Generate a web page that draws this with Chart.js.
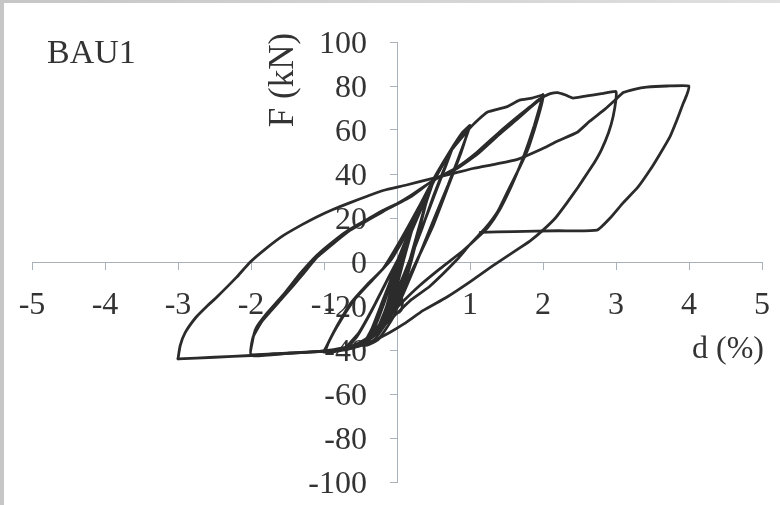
<!DOCTYPE html>
<html>
<head>
<meta charset="utf-8">
<title>BAU1</title>
<script src="https://cdn.jsdelivr.net/npm/chart.js@4.4.0/dist/chart.umd.min.js"></script>
<style>
  html, body { margin: 0; width: 780px; height: 505px; overflow: hidden; }
  body { background: linear-gradient(90deg, #c6c6c6, #e0e0e0); position: relative; }
  #wrap { position: absolute; left: 4px; top: 3px; width: 776px; height: 502px; background: #fff; }
</style>
</head>
<body>
<div id="wrap"><canvas id="hysteresis" width="776" height="502"></canvas></div>
<script>
// Specimen BAU1 - lateral force F (kN) vs drift d (%)

// tick labels
const xTicks = [-5, -4, -3, -2, -1, 0, 1, 2, 3, 4, 5];
const yTicks = [-100, -80, -60, -40, -20, 0, 20, 40, 60, 80, 100];

// small cycles (0.25 / 0.5 / 0.75 %)
const smallD = [0, 0.12, 0.25, 0.2, 0.1, 0.0, -0.12, -0.24, -0.14, -0.04, 0.06, 0.16, 0.26, 0.2, 0.1, -0.02, -0.14, -0.26, -0.15, -0.05,
  0.05, 0.2, 0.36, 0.5, 0.4, 0.3, 0.2, 0.08, -0.05, -0.25, -0.42, -0.32, -0.18, -0.05, 0.08, 0.25, 0.47,
  0.38, 0.27, 0.16, 0.04, -0.12, -0.3, -0.46, -0.34, -0.2, -0.06, 0.1, 0.3, 0.5, 0.64, 0.75,
  0.66, 0.52, 0.36, 0.22, 0.08, -0.1, -0.35, -0.7, -0.55, -0.36, -0.16, 0.02, 0.2, 0.45, 0.62, 0.74,
  0.63, 0.5, 0.34, 0.2, 0.04, -0.16, -0.4, -0.72, -0.52, -0.3, -0.1, 0.06];
const smallF = [0, 10, 21, 14, 3, -8, -19, -29, -20, -9, 2, 11, 22, 14, 2, -13, -22, -30, -21, -9,
  2, 14, 27, 37, 27, 14, 1, -13, -25, -35, -38, -31, -19, -6, 6, 19, 35,
  25, 12, -1, -14, -26, -35, -38, -30, -18, -6, 8, 23, 37, 45, 51,
  43, 31, 17, 5, -8, -22, -34, -40, -34, -23, -10, 1, 14, 33, 44, 50,
  41, 30, 15, 3, -10, -24, -36, -40, -32, -19, -6, 4];

// 1 % cycles, then on along the envelope to 2 %
const cyc1D = [0.06, 0.25, 0.49, 0.72, 0.9, 1.0, 0.85, 0.7, 0.5, 0.27, 0.05, -0.2, -0.5, -1.0,
  -0.96, -0.82, -0.64, -0.4, -0.19, 0.05, 0.3, 0.49, 0.75, 0.98,
  0.88, 0.72, 0.5, 0.22, 0.0, -0.25, -0.6, -0.98,
  -0.93, -0.78, -0.58, -0.33, -0.08, 0.15, 0.35, 0.5, 0.75, 1.03,
  1.23, 1.5, 1.68, 1.85, 2.0];
const cyc1F = [4, 20, 37, 50, 59, 62, 48, 35, 19, 0, -17, -30, -38, -41,
  -38, -29, -19, -10, -3, 10, 25, 37, 51, 61,
  50, 36, 17, -3, -18, -32, -39, -41,
  -36, -27, -17, -8, 1, 14, 28, 37, 51, 62,
  68, 70.5, 73.6, 74.5, 76];

// 2 % cycles
const cyc2D = [2.0, 1.95, 1.88, 1.8, 1.7, 1.56, 1.41, 1.25, 1.1, 0.9, 0.59, 0.3, 0.08, -0.15, -0.33, -0.6, -1.0, -1.5, -2.0,
  -1.98, -1.93, -1.8, -1.56, -1.32, -1.1, -0.85, -0.64, -0.4, -0.19, 0.0, 0.18, 0.49, 0.82, 1.1, 1.4, 1.65, 1.82, 1.95, 2.0,
  1.96, 1.88, 1.79, 1.68, 1.53, 1.38, 1.2, 1.0, 0.82, 0.45, 0.2, 0.04, -0.15, -0.33, -0.7, -1.2, -1.6, -2.0,
  -1.97, -1.85, -1.56, -1.3, -1.1, -0.85, -0.64, -0.4, -0.19, 0.18, 0.49, 0.82, 1.1, 1.4, 1.65, 1.82, 2.0];
const cyc2F = [76, 70, 62, 54, 45, 34, 24, 16, 11, 5, -3, -11, -18, -26, -33, -38, -40.5, -41.5, -42.5,
  -36, -30, -24, -15, -5, 3, 10, 15, 19.5, 23.5, 26.5, 30, 37, 43, 50, 59, 66, 70.5, 74, 75,
  69, 60, 51, 43, 33, 23, 15, 8, 1, -11, -17, -22, -28, -34, -39, -41, -41.5, -42,
  -34, -27, -16, -6, 2, 9, 14.5, 19, 23, 29.5, 37, 42.5, 49, 58, 65, 70, 75];

// 3 % cycle
const cyc3D = [2.0, 2.1, 2.2, 2.3, 2.41, 2.6, 2.8, 3.0,
  3.0, 2.96, 2.9, 2.8, 2.7, 2.6, 2.48, 2.33, 2.17, 2.0, 1.82, 1.64, 1.3, 1.0, 0.68, 0.36, 0.1, -0.1, -0.4, -0.8, -1.5, -2.0, -2.5, -3.0];
const cyc3F = [75, 76.5, 77, 76, 74.5, 75.5, 76.5, 77.5,
  74, 66, 59, 51, 45, 40, 34, 27, 20, 14.5, 9.5, 5.5, -2, -9, -16, -22, -28, -32, -37, -40, -41.5, -42.5, -43.3, -44];

// reload to 4 % and final unloading
const cyc4D = [-3.0, -2.97, -2.9, -2.75, -2.6, -2.47, -2.2, -2.01, -1.8, -1.56, -1.3, -1.1, -0.87, -0.64, -0.4, -0.19, 0.13, 0.49, 0.8, 1.04, 1.35, 1.64, 1.96, 2.2, 2.47, 2.64, 2.85, 3.0, 3.1, 3.25, 3.42, 3.7, 4.0,
  3.97, 3.92, 3.84, 3.74, 3.6, 3.47, 3.3, 3.1, 2.92, 2.74, 2.2, 1.6, 1.14];
const cyc4F = [-44, -38, -32, -25, -20, -16, -7, 0, 6, 12, 17, 20.5, 24, 27, 30, 32.5, 35, 38, 40.5, 42.5, 44.5, 46.5, 51, 55, 59, 64, 69.5, 74, 77, 78.5, 79.5, 80, 80,
  76, 72, 65, 57, 49, 42, 34, 27, 20, 14.5, 14.2, 13.8, 13.5];

const lineColor = '#2b2b2b';
const axisColor = '#a9b1ba';
const textColor = '#333333';
const serif = '"Liberation Serif", "Times New Roman", serif';

function toPoints(dArr, fArr) {
  return dArr.map((d, i) => ({x: d, y: fArr[i]}));
}

function makeSet(dArr, fArr) {
  return {
    data: toPoints(dArr, fArr),
    showLine: true,
    borderColor: lineColor,
    borderWidth: 2.8,
    pointRadius: 0,
    tension: 0.15,
    borderJoinStyle: 'round',
    borderCapStyle: 'round',
    fill: false
  };
}

// tick labels and titles, drawn beneath the curves
const axisText = {
  id: 'axisText',
  beforeDatasetsDraw(chart) {
    const {ctx, scales: {x, y}} = chart;
    const x0 = x.getPixelForValue(0);
    const y0 = y.getPixelForValue(0);
    ctx.save();
    ctx.fillStyle = textColor;
    ctx.textBaseline = 'alphabetic';

    ctx.font = '32px ' + serif;
    ctx.textAlign = 'right';
    yTicks.forEach(v => ctx.fillText(String(v), x0 - 30, y.getPixelForValue(v) + 11));
    ctx.textAlign = 'center';
    xTicks.forEach(v => ctx.fillText(String(v), x.getPixelForValue(v), y0 + 52));

    ctx.textAlign = 'right';
    ctx.fillText('d (%)', x.getPixelForValue(5) + 2, y0 + 96);

    ctx.font = '34px ' + serif;
    ctx.textAlign = 'left';
    ctx.fillText('BAU1', 43, 60);

    ctx.font = '35px ' + serif;
    ctx.translate(x0 - 104, 77);
    ctx.rotate(-Math.PI / 2);
    ctx.textAlign = 'center';
    ctx.fillText('F (kN)', 0, 0);
    ctx.restore();
  }
};

new Chart(document.getElementById('hysteresis'), {
  type: 'scatter',
  data: {
    datasets: [
      makeSet(smallD, smallF),
      makeSet(cyc1D, cyc1F),
      makeSet(cyc2D, cyc2F),
      makeSet(cyc3D, cyc3F),
      makeSet(cyc4D, cyc4F)
    ]
  },
  options: {
    responsive: false,
    animation: false,
    layout: {padding: {left: 28, right: 18, top: 39, bottom: 23}},
    plugins: {legend: {display: false}, tooltip: {enabled: false}},
    scales: {
      x: {
        type: 'linear', min: -5, max: 5, position: {y: 0},
        ticks: {stepSize: 1, display: false},
        grid: {drawOnChartArea: false, tickLength: 7, color: axisColor},
        border: {color: axisColor, width: 1}
      },
      y: {
        type: 'linear', min: -100, max: 100, position: {x: 0},
        ticks: {stepSize: 20, display: false},
        grid: {drawOnChartArea: false, tickLength: 7, color: axisColor},
        border: {color: axisColor, width: 1}
      }
    }
  },
  plugins: [axisText]
});
</script>
</body>
</html>
